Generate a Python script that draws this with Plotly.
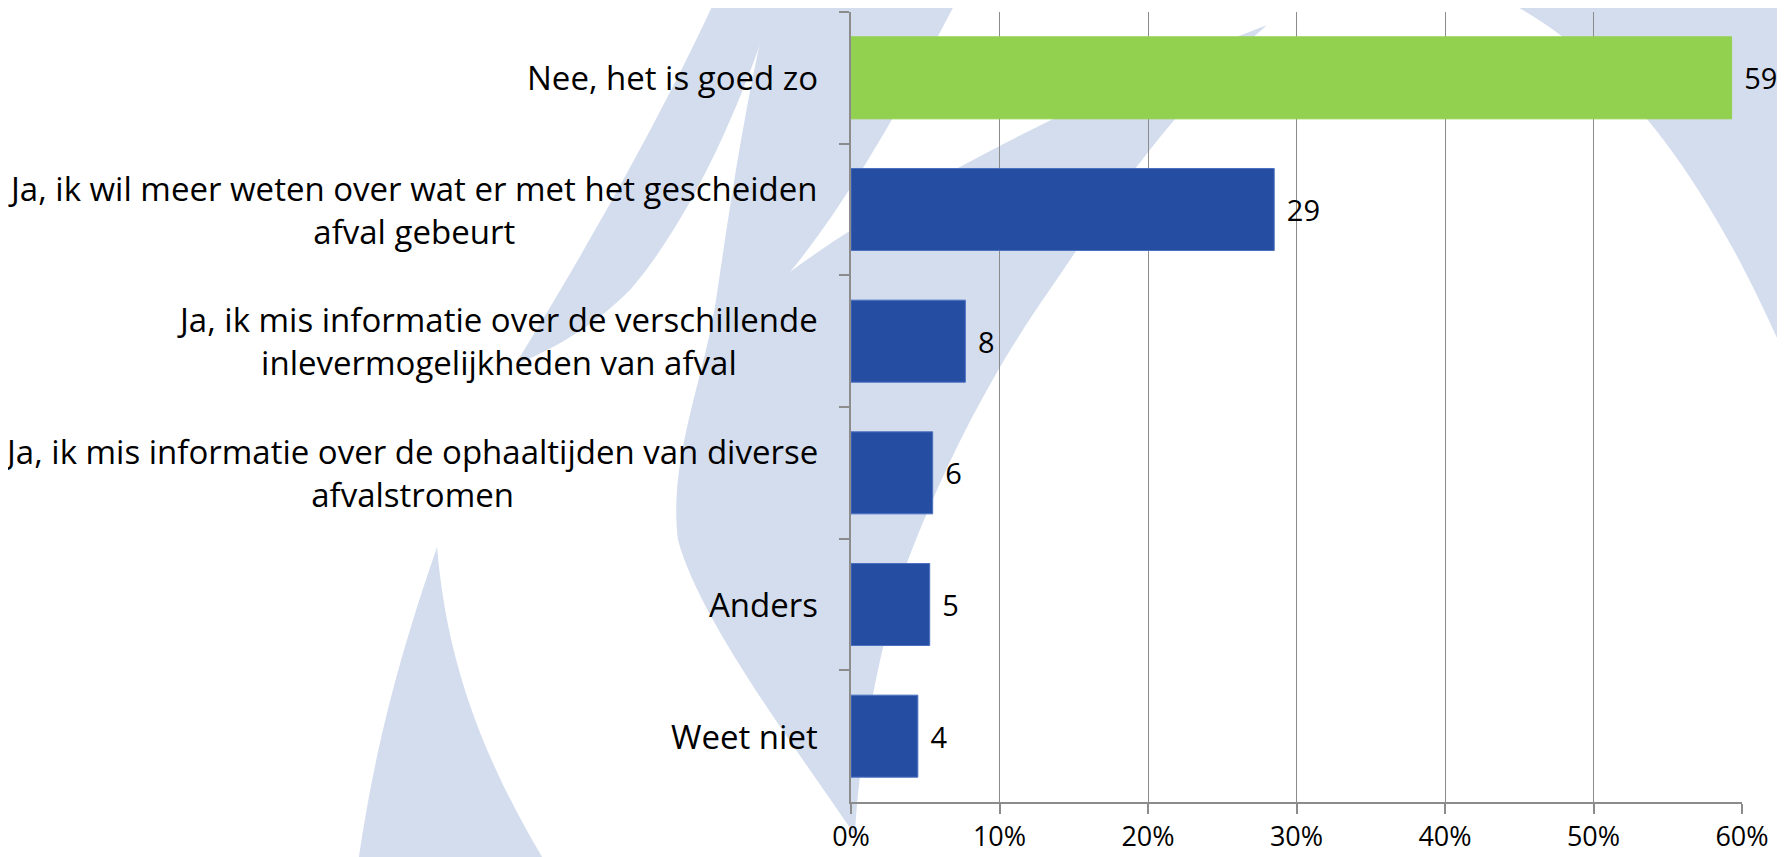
import plotly.graph_objects as go

categories = [
    "Nee, het is goed zo",
    "Ja, ik wil meer weten over wat er met het gescheiden<br>afval gebeurt",
    "Ja, ik mis informatie over de verschillende<br>inlevermogelijkheden van afval",
    "Ja, ik mis informatie over de ophaaltijden van diverse<br>afvalstromen",
    "Anders",
    "Weet niet",
]
percentages = [59.3, 28.5, 7.7, 5.5, 5.3, 4.5]
labels = [59, 29, 8, 6, 5, 4]
bar_colors = ["#92D050", "#254EA3", "#254EA3", "#254EA3", "#254EA3", "#254EA3"]
edge_colors = ["#92D050", "#4C70C0", "#4C70C0", "#4C70C0", "#4C70C0", "#4C70C0"]

# page is drawn 8px in from the window corner (body margin)
OFF = 8
W, H = 1785 - OFF, 857 - OFF
X0, X1, Y0, Y1 = 851, 1742, 12, 802   # plot area on screen
FONT = "'Open Sans', Lato, sans-serif"
GRID = "#8C8C8C"
MARK = "#D4DDEE"


def to_paper(x, y):
    # screen pixel -> paper coordinates
    px = (x - X0) / (X1 - X0)
    py = (Y1 - y) / (Y1 - Y0)
    return f"{px:.4f},{py:.4f}"


def path(cmds):
    out = []
    for op, pts in cmds:
        out.append(op + " " + " ".join(to_paper(x, y) for x, y in pts))
    return " ".join(out) + " Z"


# light blue swooshes of the watermark behind the chart
watermark = [
    path([  # big crescent with upper blade
        ("M", [(770, 0)]),
        ("C", [(745, 100), (728, 220), (716, 300)]),
        ("C", [(704, 380), (668, 460), (678, 540)]),
        ("C", [(700, 620), (790, 740), (855, 835)]),
        ("C", [(858, 760), (880, 640), (908, 560)]),
        ("C", [(950, 450), (1000, 360), (1053, 285)]),
        ("C", [(1110, 200), (1180, 100), (1267, 25)]),
        ("C", [(1100, 90), (900, 190), (790, 272)]),
        ("C", [(850, 200), (910, 90), (957, 0)]),
    ]),
    path([  # thin blade to the left
        ("M", [(715, 0)]),
        ("L", [(775, 0)]),
        ("C", [(740, 110), (690, 220), (630, 290)]),
        ("C", [(590, 330), (550, 350), (515, 365)]),
        ("C", [(580, 260), (660, 120), (715, 0)]),
    ]),
    path([  # spike at the bottom left
        ("M", [(357, 870)]),
        ("C", [(375, 740), (405, 640), (437, 547)]),
        ("C", [(445, 640), (470, 740), (550, 870)]),
    ]),
    path([  # corner at the top right
        ("M", [(1505, 0)]),
        ("C", [(1600, 50), (1700, 150), (1795, 380)]),
        ("L", [(1795, 0)]),
    ]),
]

fig = go.Figure()

fig.add_trace(go.Bar(
    x=percentages,
    y=categories,
    orientation="h",
    marker=dict(color=bar_colors, line=dict(color=edge_colors, width=1)),
    text=[f"\u2009\u2009{v}" for v in labels],
    textposition="outside",
    textfont=dict(family=FONT, size=29, color="#000000"),
    constraintext="none",
    cliponaxis=False,
    hoverinfo="skip",
))

for d in watermark:
    fig.add_shape(type="path", path=d, xref="paper", yref="paper",
                  fillcolor=MARK, line=dict(width=0), layer="below")

for cat in categories:
    fig.add_annotation(
        x=0, xref="paper", y=cat, yref="y",
        text=cat, showarrow=False,
        xanchor="right", yanchor="middle", align="center",
        xshift=-31,
        font=dict(family=FONT, size=33, color="#000000"),
    )

fig.update_layout(
    width=W, height=H,
    margin=dict(l=X0 - OFF, r=W - (X1 - OFF), t=Y0 - OFF, b=H - (Y1 - OFF)),
    paper_bgcolor="white",
    plot_bgcolor="rgba(0,0,0,0)",
    bargap=0.377,
    showlegend=False,
    font=dict(family=FONT, color="#000000"),
)

fig.update_xaxes(
    range=[0, 60], dtick=10, ticksuffix="%",
    showgrid=True, gridcolor=GRID, gridwidth=1.3,
    showline=True, linecolor=GRID, linewidth=2,
    ticks="outside", ticklen=10, tickwidth=1.5, tickcolor=GRID,
    zeroline=False, automargin=False,
    tickfont=dict(family=FONT, size=27, color="#000000"),
    ticklabelstandoff=0,
)

fig.update_yaxes(
    type="category", autorange="reversed",
    showgrid=False, zeroline=False, automargin=False,
    showline=True, linecolor=GRID, linewidth=1.5,
    ticks="outside", tickson="boundaries", ticklen=10, tickwidth=1.5, tickcolor=GRID,
    showticklabels=False,
)

fig.write_html("out.html")
